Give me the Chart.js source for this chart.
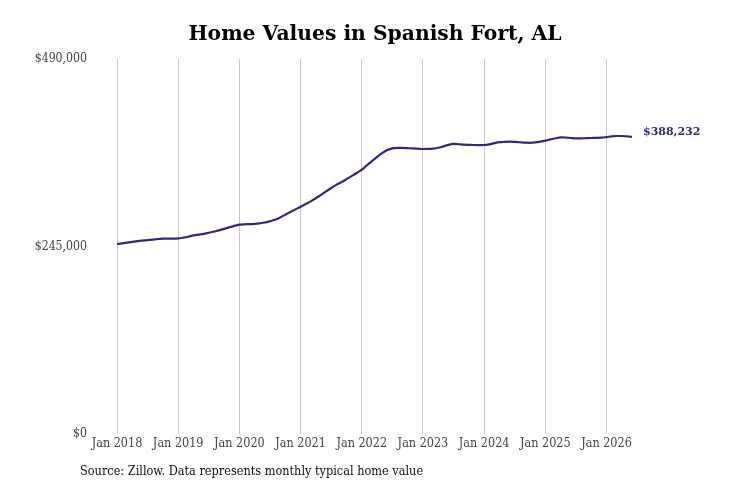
<!DOCTYPE html>
<html>
<head>
<meta charset="utf-8">
<script src="https://cdn.jsdelivr.net/npm/chart.js@4.4.0/dist/chart.umd.min.js"></script>
<style>
  html, body { margin: 0; padding: 0; background: #fff; }
  #wrap { width: 731px; height: 487px; position: relative; }
</style>
</head>
<body>
<div id="wrap"><canvas id="homeChart"></canvas></div>
<script>
// chart data: Spanish Fort, AL typical home value, monthly Jan 2018 - Jun 2026
const TITLE = "Home Values in Spanish Fort, AL";
const SOURCE = "Source: Zillow. Data represents monthly typical home value";
const START_YEAR = 2018;
const MONTHS = ["Jan","Feb","Mar","Apr","May","Jun","Jul","Aug","Sep","Oct","Nov","Dec"];
const Y_TICKS = [0, 245000, 490000];
const LAST_LABEL = "$388,232";

const homeValues = [
  // 2018
  248300, 249000, 250000, 251000, 252000, 252700, 253300, 254000, 254800, 255200, 255300, 255200,
  // 2019
  255500, 256500, 257800, 259500, 260500, 261500, 263000, 264500, 266000, 268000, 270000, 272000,
  // 2020
  273500, 274000, 274200, 274600, 275300, 276300, 278000, 280000, 283000, 286500, 290000, 293500,
  // 2021
  297000, 300500, 304000, 308000, 312500, 317000, 321500, 325500, 329000, 333000, 337000, 341000,
  // 2022
  345500, 351000, 356500, 362000, 367000, 371000, 373300, 374000, 373800, 373500, 373200, 372800,
  // 2023
  372400, 372500, 373000, 374000, 375800, 377800, 379000, 378600, 378000, 377800, 377600, 377500,
  // 2024
  377600, 378500, 380000, 381300, 381800, 382000, 381700, 381200, 380700, 380500, 381000, 382000,
  // 2025
  383300, 385000, 386500, 387500, 387400, 386800, 386300, 386300, 386600, 386800, 386900, 387200,
  // 2026
  388000, 388900, 389400, 389400, 388800, 388232
];

const labels = homeValues.map((v, i) =>
  MONTHS[i % 12] + " " + (START_YEAR + Math.floor(i / 12)));

const LINE_COLOR = "#2e2a80";
const SERIF = "'DejaVu Serif', serif";
const SERIF_COND = "'DejaVu Serif Condensed', 'Liberation Serif', serif";

/**
 * タイトル・出典・最終値ラベルをキャンバスに描く
 */
const textPlugin = {
  id: "textPlugin",
  afterDraw(chart) {
    const ctx = chart.ctx;
    ctx.save();
    ctx.fillStyle = "#000";
    ctx.font = "bold 20.3px " + SERIF;
    ctx.textAlign = "center";
    ctx.textBaseline = "middle";
    ctx.fillText(TITLE, 375, 35);

    ctx.font = "12.6px " + SERIF_COND;
    ctx.fillStyle = "#111";
    ctx.textAlign = "left";
    ctx.fillText(SOURCE, 80, 472);

    const meta = chart.getDatasetMeta(0);
    const last = meta.data[meta.data.length - 1];
    ctx.font = "bold 11px " + SERIF;
    ctx.fillStyle = LINE_COLOR;
    ctx.fillText(LAST_LABEL, last.x + 11, last.y - 5);
    ctx.restore();
  }
};

const ctx = document.getElementById("homeChart").getContext("2d");
new Chart(ctx, {
  type: "line",
  data: {
    labels: labels,
    datasets: [{
      data: homeValues,
      borderColor: LINE_COLOR,
      borderWidth: 2.2,
      pointRadius: 0,
      tension: 0.4,
      cubicInterpolationMode: "monotone",
      fill: false
    }]
  },
  options: {
    responsive: true,
    maintainAspectRatio: false,
    animation: false,
    layout: { padding: { top: 59, right: 99, bottom: 0, left: 0 } },
    plugins: {
      legend: { display: false },
      title: { display: false },
      tooltip: { enabled: false }
    },
    scales: {
      x: {
        offset: false,
        border: { display: false },
        grid: {
          drawTicks: false,
          color: (c) => (c.index % 12 === 0 ? "#c8c8c8" : "rgba(0,0,0,0)"),
          lineWidth: 1
        },
        ticks: {
          autoSkip: false,
          maxRotation: 0,
          minRotation: 0,
          padding: 2,
          color: "#444",
          font: { family: SERIF_COND, size: 12.5 },
          callback: function(val, i) { return i % 12 === 0 ? labels[i] : ""; }
        },
        afterFit: (s) => { s.height = 53; }
      },
      y: {
        min: 0,
        max: 490000,
        border: { display: false },
        grid: { display: false, drawTicks: false },
        afterBuildTicks: (s) => { s.ticks = Y_TICKS.map(v => ({ value: v })); },
        ticks: {
          padding: 30,
          color: "#444",
          font: { family: SERIF_COND, size: 12.2 },
          callback: (v) => "$" + v.toLocaleString("en-US")
        },
        afterFit: (s) => { s.width = 117; }
      }
    }
  },
  plugins: [textPlugin]
});
</script>
</body>
</html>
